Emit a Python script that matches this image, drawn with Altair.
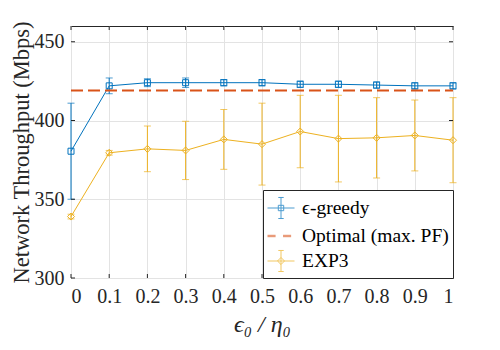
import altair as alt
import pandas as pd

# ---- data ----
x_vals = [0, 0.1, 0.2, 0.3, 0.4, 0.5, 0.6, 0.7, 0.8, 0.9, 1.0]
greedy_mean = [380.5, 422, 424, 424, 424, 424, 423, 423, 422.5, 422, 422]
greedy_err = [30.5, 5, 2.5, 3, 2, 2, 2, 2, 2, 2, 2]
exp3_mean = [339, 379.5, 382, 381, 388, 385, 393, 388.5, 389, 390.5, 387.5]
exp3_err = [1.5, 1.5, 14.5, 18.5, 19, 26, 23, 27.5, 25.5, 22.5, 27]
optimal_value = 419
x_ticks = [0, 0.1, 0.2, 0.3, 0.4, 0.5, 0.6, 0.7, 0.8, 0.9, 1.0]
y_ticks = [300, 350, 400, 450]
names = ["ϵ-greedy", "Optimal (max. PF)", "EXP3"]
colors = ["#0072BD", "#D95319", "#EDB120"]

FONT = "Liberation Serif"
W, H = 382, 252
AX = "#262626"

greedy_df = pd.DataFrame({
    "x": x_vals, "m": greedy_mean,
    "lo": [m - e for m, e in zip(greedy_mean, greedy_err)],
    "hi": [m + e for m, e in zip(greedy_mean, greedy_err)],
})
exp3_df = pd.DataFrame({
    "x": x_vals, "m": exp3_mean,
    "lo": [m - e for m, e in zip(exp3_mean, exp3_err)],
    "hi": [m + e for m, e in zip(exp3_mean, exp3_err)],
})
opt_df = pd.DataFrame({"x": x_vals, "m": [optimal_value] * len(x_vals)})
xt_df = pd.DataFrame({"t": x_ticks})
yt_df = pd.DataFrame({"t": y_ticks})
leg_df = pd.DataFrame({"series": names})

xs = alt.Scale(domain=[0, 1], nice=False, zero=False)
ys = alt.Scale(domain=[300, 460], nice=False, zero=False)

xaxis = alt.Axis(values=x_ticks, format="~g", grid=True, gridColor="#e3e3e3",
                 gridWidth=1, domain=False, ticks=False, labelFont=FONT,
                 labelFontSize=20, labelColor=AX, labelPadding=8,
                 title="ϵ₀ / η₀", titleFont=FONT, titleFontSize=24,
                 titleFontWeight="normal", titleFontStyle="italic",
                 titleColor=AX, titlePadding=6)
yaxis = alt.Axis(values=y_ticks, grid=True, gridColor="#e3e3e3", gridWidth=1,
                 domain=False, ticks=False, labelFont=FONT, labelFontSize=20,
                 labelColor=AX, labelPadding=7,
                 title="Network Throughput (Mbps)", titleFont=FONT,
                 titleFontSize=22.5, titleFontWeight="normal", titleColor=AX,
                 titlePadding=1)


def X(f):
    return alt.X(f, type="quantitative", scale=xs, axis=xaxis)


def Y(f):
    return alt.Y(f, type="quantitative", scale=ys, axis=yaxis)


def series_layers(df, color, shape, size):
    base = alt.Chart(df)
    line = base.mark_line(color=color, strokeWidth=1).encode(x=X("x"), y=Y("m"))
    bars = base.mark_rule(color=color, strokeWidth=1).encode(
        x=X("x"), y=Y("lo"), y2="hi")
    cap_lo = base.mark_tick(color=color, orient="horizontal", size=7,
                            thickness=1).encode(x=X("x"), y=Y("lo"))
    cap_hi = base.mark_tick(color=color, orient="horizontal", size=7,
                            thickness=1).encode(x=X("x"), y=Y("hi"))
    pts = base.mark_point(color=color, shape=shape, size=size, filled=False,
                          strokeWidth=1, opacity=1).encode(x=X("x"), y=Y("m"))
    return [line, bars, cap_lo, cap_hi, pts]


greedy_layers = series_layers(greedy_df, colors[0], "square", 36)
opt_line = alt.Chart(opt_df).mark_line(color=colors[1], strokeWidth=2,
                                       strokeDash=[12, 5]).encode(x=X("x"), y=Y("m"))
exp3_layers = series_layers(exp3_df, colors[2], "diamond", 49)

# inward ticks on all four sides
tb = alt.Chart(xt_df).mark_rule(color=AX, strokeWidth=1).encode(
    x=X("t"), y=alt.value(H), y2=alt.value(H - 4))
tt = alt.Chart(xt_df).mark_rule(color=AX, strokeWidth=1).encode(
    x=X("t"), y=alt.value(0), y2=alt.value(4))
tl = alt.Chart(yt_df).mark_rule(color=AX, strokeWidth=1).encode(
    y=Y("t"), x=alt.value(0), x2=alt.value(4))
tr = alt.Chart(yt_df).mark_rule(color=AX, strokeWidth=1).encode(
    y=Y("t"), x=alt.value(W), x2=alt.value(W - 4))

# legend symbols (custom paths)
p_greedy = ("M-1,0H1M0,-0.78V0.78M-0.2,-0.78H0.2M-0.2,0.78H0.2"
            "M-0.2,-0.2H0.2V0.2H-0.2Z")
p_opt = ("M-1,-0.05H-0.4M-1,0.05H-0.4M0.15,-0.05H0.75M0.15,0.05H0.75")
p_exp3 = ("M-1,0H1M0,-0.78V0.78M-0.2,-0.78H0.2M-0.2,0.78H0.2"
          "M0,-0.26L0.26,0L0,0.26L-0.26,0Z")
legend = alt.Legend(title=None, orient="bottom-right", offset=0,
                    strokeColor=AX, fillColor="white", padding=4,
                    labelFont=FONT, labelFontSize=19.5, labelColor="black",
                    symbolSize=729, symbolStrokeWidth=1,
                    symbolFillColor="transparent", labelOffset=7,
                    rowPadding=1, labelLimit=400)
leg = alt.Chart(leg_df).mark_point(filled=False, clip=True, strokeWidth=1).encode(
    x=alt.value(-500), y=alt.value(-500),
    color=alt.Color("series:N", scale=alt.Scale(domain=names, range=colors),
                    legend=legend, sort=names),
    shape=alt.Shape("series:N",
                    scale=alt.Scale(domain=names, range=[p_greedy, p_opt, p_exp3]),
                    legend=legend, sort=names),
)

chart = alt.layer(
    *greedy_layers, opt_line, *exp3_layers, tb, tt, tl, tr, leg
).properties(
    width=W, height=H,
    autosize=alt.AutoSizeParams(type="none"),
    padding={"left": 63, "top": 18, "right": 30, "bottom": 60},
    background="white",
).configure(font=FONT).configure_axis(
    labelFont=FONT, titleFont=FONT
).configure_legend(labelFont=FONT).configure_view(stroke=AX, strokeWidth=1)

chart.save("out.html", embed_options={"renderer": "svg", "actions": False})
